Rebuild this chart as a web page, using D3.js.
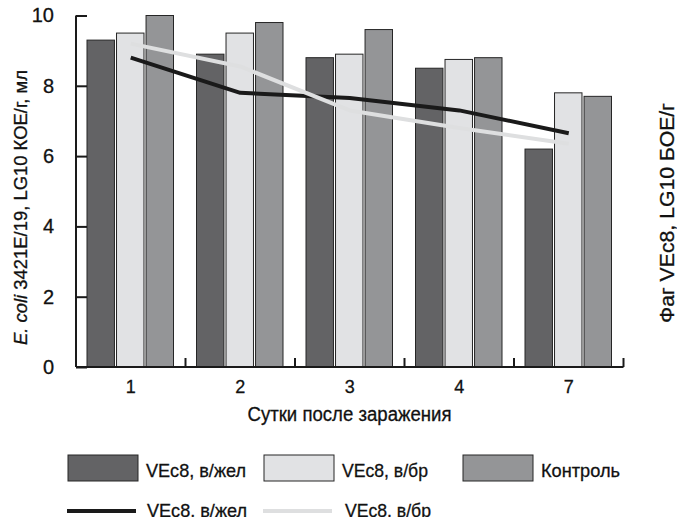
<!DOCTYPE html>
<html><head><meta charset="utf-8">
<script src="https://cdn.jsdelivr.net/npm/d3@7"></script>
<style>
body{margin:0;background:#fff;}
text{font-family:"Liberation Sans Narrow","Arial Narrow","Liberation Sans",Arial,sans-serif;fill:#111;stroke:#111;stroke-width:0.3px;}
</style></head><body>
<svg id="c" width="677" height="517"></svg>
<script>
const days = ["1","2","3","4","7"];
const barSeries = ["VEc8, в/жел","VEc8, в/бр","Контроль"];
const barZhel = [9.3, 8.9, 8.8, 8.5, 6.2];
const barBr = [9.5, 9.5, 8.9, 8.75, 7.8];
const barControl = [10.0, 9.8, 9.6, 8.8, 7.7];
const lineZhel = [8.8, 7.8, 7.65, 7.3, 6.65];
const lineBr = [9.2, 8.55, 7.3, 6.8, 6.35];
const yTicks = [0,2,4,6,8,10];
const barColors = ["#636365","#e1e2e4","#949597"];
const lineColors = ["#1a1a1a","#dedfe0"];

const svg = d3.select("#c");
const x = d3.scaleBand().domain(days).range([76,623.5]).padding(0);
const x1 = d3.scaleBand().domain(barSeries).range([11,97.5]).paddingInner(0.07).paddingOuter(0);
const y = d3.scaleLinear().domain([0,10]).range([367,15.5]);

const barData = [barZhel, barBr, barControl];
const g = svg.append("g");
days.forEach((d,i)=>{
  barSeries.forEach((s,j)=>{
    g.append("rect")
      .attr("x", x(d)+x1(s))
      .attr("y", y(barData[j][i]))
      .attr("width", x1.bandwidth())
      .attr("height", y(0)-y(barData[j][i]))
      .attr("fill", barColors[j])
      .attr("stroke","#262626").attr("stroke-width",1);
  });
});

// lines
const line = d3.line().x((v,i)=>x(days[i])+x.bandwidth()/2).y(v=>y(v));
[lineZhel, lineBr].forEach((arr,k)=>{
  svg.append("path").datum(arr).attr("d", line)
    .attr("fill","none").attr("stroke", lineColors[k]).attr("stroke-width", 4)
    .attr("stroke-linejoin","round");
});

// y axis
const yAxis = d3.axisLeft(y).tickValues(yTicks).tickSize(-11).tickPadding(22).tickFormat(d3.format("d"));
const ya = svg.append("g").attr("transform","translate(76,0)").call(yAxis);
ya.attr("font-family",null).attr("font-size",null);
ya.select(".domain").attr("d","M0,"+y(10)+"V"+y(0)).attr("stroke","#1a1a1a").attr("stroke-width",2);
ya.selectAll(".tick line").attr("stroke","#1a1a1a").attr("stroke-width",2);
ya.selectAll(".tick text").attr("font-size",20).attr("fill","#111");

// x axis
const xa = svg.append("g").attr("transform","translate(0,367)");
xa.append("line").attr("x1",76).attr("x2",623.5).attr("y1",0).attr("y2",0).attr("stroke","#1a1a1a").attr("stroke-width",2);
days.forEach(d=>{
  xa.append("line").attr("x1",x(d)+x.bandwidth()).attr("x2",x(d)+x.bandwidth()).attr("y1",0).attr("y2",-9).attr("stroke","#1a1a1a").attr("stroke-width",2);
  xa.append("text").attr("x",x(d)+x.bandwidth()/2).attr("y",26).attr("text-anchor","middle").attr("font-size",18).text(d);
});
svg.append("text").attr("x",349.5).attr("y",420.5).attr("text-anchor","middle").attr("font-size",19.5)
  .attr("textLength",204).attr("lengthAdjust","spacingAndGlyphs").text("Сутки после заражения");

// axis titles
const lt = svg.append("text").attr("transform","translate(27,207.5) rotate(-90)").attr("text-anchor","middle").attr("font-size",18.5)
  .attr("textLength",275).attr("lengthAdjust","spacingAndGlyphs");
lt.append("tspan").attr("font-style","italic").text("E. coli");
lt.append("tspan").text(" 3421E/19, LG10 КОЕ/г, мл");
svg.append("text").attr("transform","translate(674,213) rotate(-90)").attr("text-anchor","middle").attr("font-size",20)
  .attr("textLength",220).attr("lengthAdjust","spacingAndGlyphs").text("Фаг VEc8, LG10 БОЕ/г");

// legend
const legRect = [68,264,463];
const legText = [146,342,541];
const legLen = [100,86,79];
barSeries.forEach((s,j)=>{
  svg.append("rect").attr("x",legRect[j]).attr("y",455).attr("width",70).attr("height",26)
    .attr("fill",barColors[j]).attr("stroke","#262626").attr("stroke-width",1);
  svg.append("text").attr("x",legText[j]).attr("y",476.5).attr("font-size",19)
    .attr("textLength",legLen[j]).attr("lengthAdjust","spacingAndGlyphs").text(s);
});
const lineNames = ["VEc8, в/жел","VEc8, в/бр"];
const legLineX = [67,263];
const legLineT = [147,345];
const legLineLen = [100,86];
lineNames.forEach((s,k)=>{
  svg.append("line").attr("x1",legLineX[k]).attr("x2",legLineX[k]+69).attr("y1",511).attr("y2",511)
    .attr("stroke",lineColors[k]).attr("stroke-width",4);
  svg.append("text").attr("x",legLineT[k]).attr("y",516.5).attr("font-size",19)
    .attr("textLength",legLineLen[k]).attr("lengthAdjust","spacingAndGlyphs").text(s);
});
</script></body></html>
